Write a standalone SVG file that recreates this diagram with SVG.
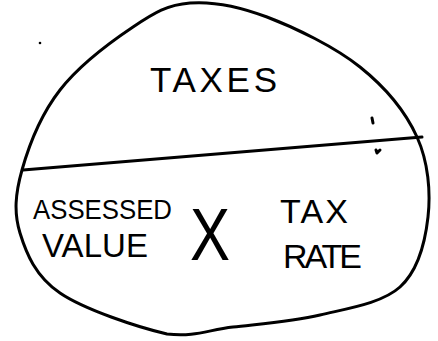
<svg xmlns="http://www.w3.org/2000/svg" width="438" height="341" viewBox="0 0 438 341">
<style>
.ink{fill:none;stroke:#000;stroke-width:3;stroke-linecap:round;stroke-linejoin:round}
.lbl{font-family:"Liberation Sans",Arial,sans-serif;fill:#000}
</style>
<rect width="438" height="341" fill="#fff"/>
<g id="outline">
<path class="ink" d="M190,3 C212.3,1.3 238.7,6.3 267,17 C295.3,27.7 335,47 360,67 C385,87 405.7,112 417,137 C428.3,162 430.8,192 428,217 C425.2,242 418,270.7 400,287 C382,303.3 347.8,308.3 320,315 C292.2,321.7 258.5,324 233,327 C207.5,330 195.8,337 167,334 C138.2,327.3 84.5,309.7 60,293 C35.5,276.3 26.3,253.5 20,233 C13.7,212.5 15.3,193.8 22,170 C28.7,146.2 41.5,113.8 60,90 C78.5,66.2 111.3,41.5 133,27 C154.7,12.5 167.7,4.7 190,3 Z"/>
</g>
<g id="divider">
<path class="ink" d="M23,170 L422,137"/>
</g>
<g id="marks">
<circle cx="40" cy="43" r="1.3" fill="#000"/>
<path class="ink" stroke-width="2" d="M372,118 L373,123"/>
<path class="ink" stroke-width="2" d="M376,150 L377,153 L380,150"/>
</g>
<g id="taxes">
<text class="lbl" x="150" y="92" style="font-size:35px" textLength="127" lengthAdjust="spacing">TAXES</text>
</g>
<g id="assessed-value">
<text class="lbl" x="33" y="219" style="font-size:28.5px" textLength="139" lengthAdjust="spacingAndGlyphs">ASSESSED</text>
<text class="lbl" x="42" y="257" style="font-size:33px" textLength="106" lengthAdjust="spacing">VALUE</text>
</g>
<g id="times">
<text class="lbl" x="190" y="260" style="font-size:74px" textLength="40" lengthAdjust="spacingAndGlyphs">X</text>
</g>
<g id="tax-rate">
<text class="lbl" x="280" y="223" style="font-size:34px" textLength="68" lengthAdjust="spacing">TAX</text>
<text class="lbl" x="283" y="268" style="font-size:34px" textLength="79" lengthAdjust="spacing">RATE</text>
</g>
</svg>
